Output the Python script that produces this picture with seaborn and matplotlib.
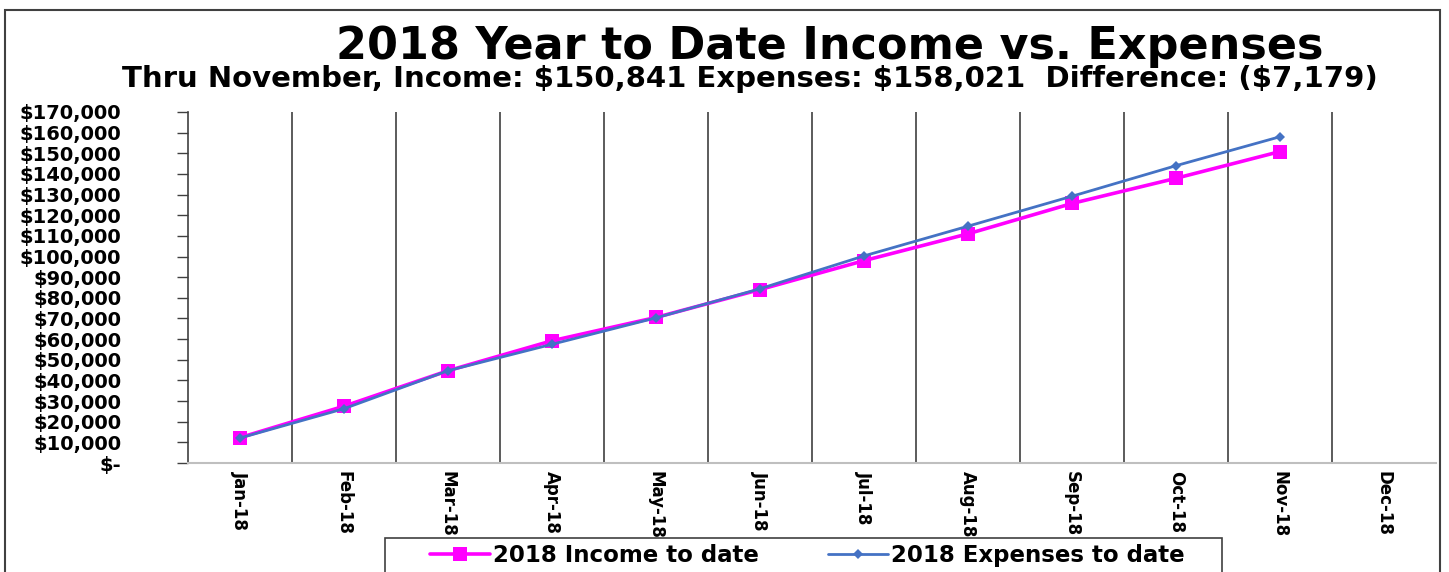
import numpy as np
import pandas as pd
import matplotlib
matplotlib.use("Agg")
import matplotlib.pyplot as plt
from matplotlib.patches import Rectangle
from matplotlib.ticker import FuncFormatter
import seaborn as sns

months = ["Jan-18", "Feb-18", "Mar-18", "Apr-18", "May-18", "Jun-18",
          "Jul-18", "Aug-18", "Sep-18", "Oct-18", "Nov-18", "Dec-18"]
income = [12300, 27500, 44700, 59200, 70500, 84000,
          98000, 111000, 125700, 137900, 150841]
expenses = [12100, 26300, 44700, 57500, 70300, 84400,
            100300, 114700, 129200, 144000, 158021]

TITLE = "2018 Year to Date Income vs. Expenses"
SUBTITLE = "Thru November, Income: $150,841 Expenses: $158,021  Difference: ($7,179)"

sns.set_style("white")
plt.rcParams["font.family"] = ["DejaVu Sans"]
plt.rcParams["font.weight"] = "bold"
plt.rcParams["text.color"] = "black"
plt.rcParams["xtick.color"] = "black"
plt.rcParams["ytick.color"] = "black"

df = pd.DataFrame({
    "pos": np.arange(len(income)),
    "income": income,
    "expenses": expenses,
})

W, H = 1449, 572
fig = plt.figure(figsize=(W / 100, H / 100), dpi=100)
ax = fig.add_axes([188 / W, 1 - 463 / H, (1436 - 188) / W, (463 - 112) / H])

sns.lineplot(data=df, x="pos", y="income", ax=ax, color="#FF00FF", linewidth=2.6,
             marker="s", markersize=10, markeredgewidth=0, label="2018 Income to date",
             legend=False)
sns.lineplot(data=df, x="pos", y="expenses", ax=ax, color="#4472C4", linewidth=2.0,
             marker="D", markersize=5.5, markeredgewidth=0, label="2018 Expenses to date",
             legend=False)

ax.set_xlim(-0.5, len(months) - 0.5)
ax.set_ylim(0, 170000)
ax.set_xticks(np.arange(len(months)))
ax.set_xticklabels(months, rotation=-90, fontsize=12, fontweight="bold")
ax.set_yticks(np.arange(0, 170001, 10000))
ax.yaxis.set_major_formatter(FuncFormatter(lambda v, p: "$-" if v == 0 else f"${v:,.0f}"))
for lab in ax.get_yticklabels():
    lab.set_fontsize(14)
    lab.set_fontweight("bold")
ax.tick_params(axis="x", length=0, pad=6)
ax.tick_params(axis="y", length=8, width=1, color="#404040", pad=40, left=True, direction="out")
ax.set_xlabel("")
ax.set_ylabel("")

# vertical separators between months
for b in np.arange(0.5, len(months) - 0.5, 1):
    ax.axvline(b, color="#404040", linewidth=1.2, zorder=0)

for s in ["top", "right"]:
    ax.spines[s].set_visible(False)
ax.spines["left"].set_color("#404040")
ax.spines["left"].set_linewidth(1.2)
ax.spines["bottom"].set_color("#BFBFBF")
ax.spines["bottom"].set_linewidth(1.5)

fig.text(830 / W, 1 - 46 / H, TITLE, ha="center", va="center", fontsize=32, fontweight="bold")
fig.text(750 / W, 1 - 79 / H, SUBTITLE, ha="center", va="center", fontsize=21, fontweight="bold")

# legend entries spread over the box, frame drawn separately
handles, labels = ax.get_legend_handles_labels()
leg = fig.legend(handles, labels, loc="upper left",
                 bbox_to_anchor=(430 / W, 1 - 544 / H, (1185 - 430) / W, 0),
                 mode="expand", ncol=2, frameon=False,
                 handlelength=2.6, handletextpad=0.15, borderpad=0, borderaxespad=0,
                 prop={"weight": "bold", "size": 16.5})
fig.patches.append(Rectangle((385 / W, -0.05), (1222 - 385) / W, 0.05 + 1 - 538 / H,
                             transform=fig.transFigure, fill=False, edgecolor="#404040", linewidth=1.2))

# outer chart frame
fig.patches.append(Rectangle((5 / W, -0.1), (1440 - 5) / W, 1.1 - 10 / H, transform=fig.transFigure,
                             fill=False, edgecolor="#404040", linewidth=1.5))

fig.savefig("out.png", dpi=100)
